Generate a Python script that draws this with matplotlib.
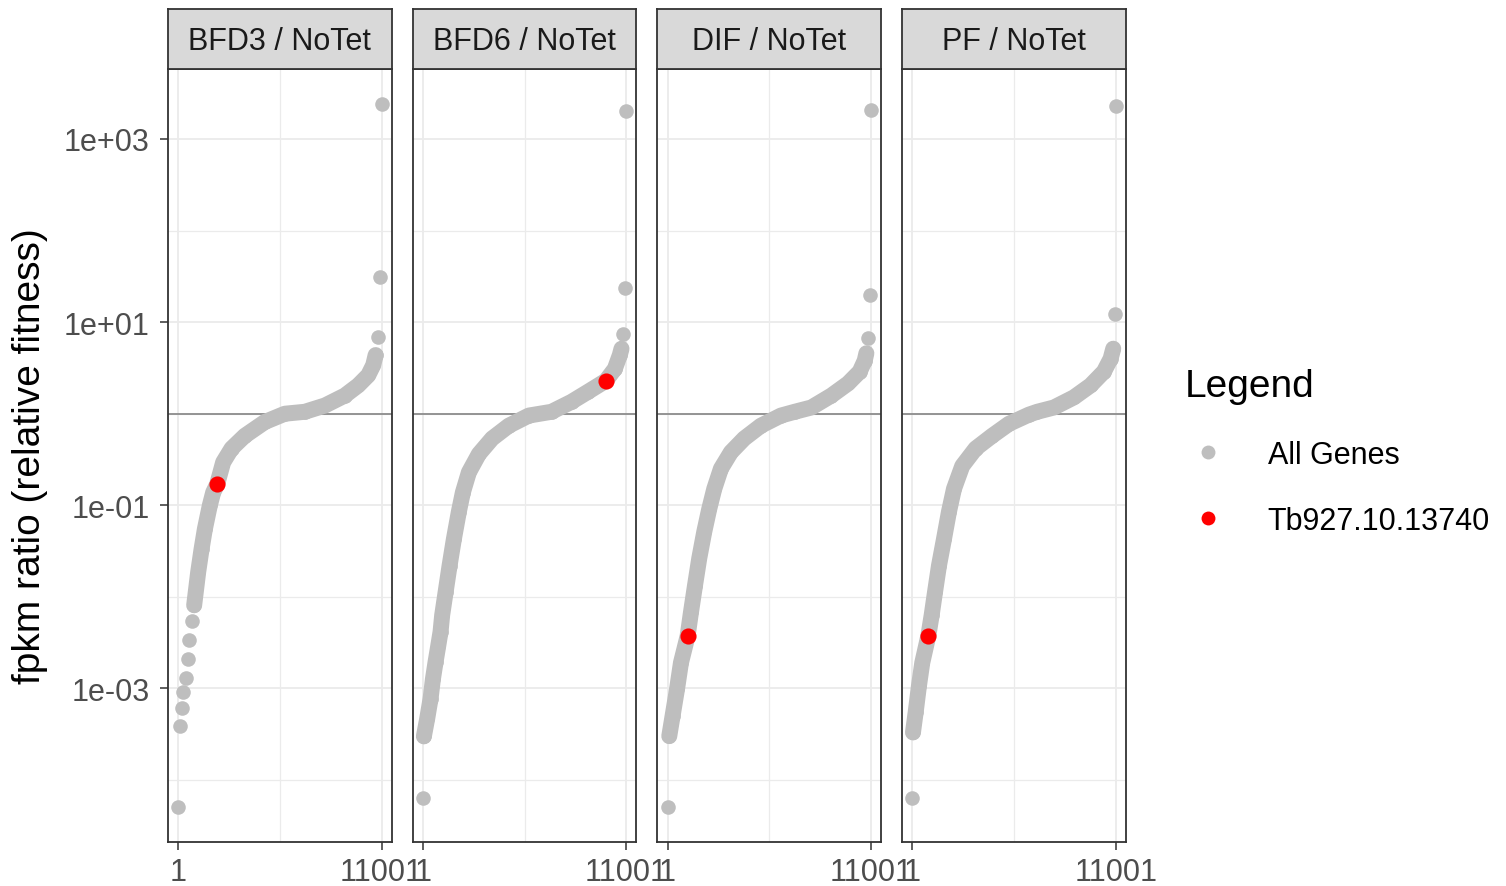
import numpy as np
import matplotlib.pyplot as plt
from matplotlib.lines import Line2D
from matplotlib.ticker import FixedLocator, FuncFormatter, NullFormatter

plt.rcParams['font.family'] = ['Liberation Sans', 'DejaVu Sans']

# facet titles
panels = ["BFD3 / NoTet", "BFD6 / NoTet", "DIF / NoTet", "PF / NoTet"]

# genes sorted by fpkm ratio: dense part of each curve (rank, ratio)
bfd3_rank = [866, 1083, 1265, 1445, 1715, 1894, 2110, 2435, 2890, 3608, 4690,
             5771, 6853, 7940, 9016, 9740, 10282, 10552, 10682]
bfd3_ratio = [8.1e-3, 0.0186, 0.0331, 0.055, 0.100, 0.138, 0.170, 0.295, 0.417,
              0.575, 0.813, 1.0, 1.05, 1.23, 1.58, 2.04, 2.63, 3.39, 4.37]
bfd6_rank = [55, 235, 418, 543, 688, 828, 958, 1045, 1229, 1445, 1678, 1948,
             2164, 2489, 3030, 3750, 4652, 5734, 6960, 8042, 8940, 9897, 10384,
             10655, 10745]
bfd6_ratio = [3.0e-4, 4.68e-4, 7.76e-4, 1.26e-3, 1.95e-3, 2.88e-3, 4.17e-3,
              6.31e-3, 0.0112, 0.0219, 0.0427, 0.0851, 0.138, 0.229, 0.363,
              0.537, 0.741, 0.955, 1.05, 1.35, 1.74, 2.29, 3.09, 4.37, 5.13]
dif_rank = [93, 272, 510, 725, 1083, 1265, 1482, 1714, 1985, 2255, 2526, 2886,
            3427, 4148, 5052, 6134, 6878, 7780, 8862, 9763, 10394, 10665, 10755]
dif_ratio = [3.02e-4, 5.01e-4, 9.77e-4, 1.91e-3, 3.72e-3, 6.76e-3, 0.0132,
             0.0263, 0.0513, 0.0912, 0.151, 0.251, 0.380, 0.537, 0.741, 0.955,
             1.05, 1.17, 1.58, 2.14, 2.88, 3.80, 4.57]
pf_rank = [39, 185, 363, 542, 866, 1050, 1229, 1445, 1715, 1986, 2256, 2706,
           3429, 4327, 5230, 6311, 6760, 7663, 8745, 9646, 10367, 10728, 10872]
pf_ratio = [3.31e-4, 5.50e-4, 1.07e-3, 1.91e-3, 3.72e-3, 6.31e-3, 0.0112,
            0.0219, 0.0427, 0.0851, 0.151, 0.269, 0.417, 0.575, 0.776, 0.977,
            1.05, 1.17, 1.51, 2.04, 2.88, 3.98, 5.13]

# isolated outliers at both ends of each curve
bfd3_out_rank = [1, 93, 185, 271, 400, 508, 580, 725, 10820, 10910, 11001]
bfd3_out_ratio = [5.1e-5, 3.9e-4, 6.2e-4, 9.1e-4, 1.29e-3, 2.09e-3, 3.39e-3,
                  5.5e-3, 6.9, 30.9, 2400]
bfd6_out_rank = [1, 10835, 10926, 11001]
bfd6_out_ratio = [6.3e-5, 7.41, 23.4, 1995]
dif_out_rank = [1, 10855, 10960, 11001]
dif_out_ratio = [5.1e-5, 6.76, 20.0, 2089]
pf_out_rank = [1, 10948, 11001]
pf_out_ratio = [6.3e-5, 12.3, 2291]

# highlighted gene Tb927.10.13740 in each comparison
gene_rank = [2110, 9897, 1083, 866]
gene_ratio = [0.170, 2.29, 3.72e-3, 3.72e-3]

n_genes = 11001
x_breaks = [1, 11001]
y_breaks = [1e-3, 1e-1, 1e1, 1e3]
y_minor = [1e-4, 1e-2, 1e0, 1e2]

curves = [(bfd3_rank, bfd3_ratio), (bfd6_rank, bfd6_ratio),
          (dif_rank, dif_ratio), (pf_rank, pf_ratio)]
outliers = [(bfd3_out_rank, bfd3_out_ratio), (bfd6_out_rank, bfd6_out_ratio),
            (dif_out_rank, dif_out_ratio), (pf_out_rank, pf_out_ratio)]

gray = '#BEBEBE'
W, H = 1506, 887

# ggplot-like 5% expansion on log scale
all_vals = np.concatenate([np.r_[c[1], o[1]] for c, o in zip(curves, outliers)])
lo, hi = np.log10(all_vals.min()), np.log10(all_vals.max())
pad = 0.05 * (hi - lo)
ylim = (10 ** (lo - pad), 10 ** (hi + pad))
xpad = 0.05 * (n_genes - 1)
xlim = (1 - xpad, n_genes + xpad)

fig = plt.figure(figsize=(W / 100, H / 100), dpi=100)

left0, step, pw = 168, 244.7, 223.7
top, bottom, strip_h = 70, 843, 60

for i, name in enumerate(panels):
    left = left0 + i * step
    ax = fig.add_axes([left / W, 1 - bottom / H, pw / W, (bottom - top) / H])
    ax.set_yscale('log')
    ax.set_xlim(*xlim)
    ax.set_ylim(*ylim)

    ax.yaxis.set_major_locator(FixedLocator(y_breaks))
    ax.yaxis.set_minor_locator(FixedLocator(y_minor))
    ax.yaxis.set_major_formatter(FuncFormatter(lambda v, p: f"{v:.0e}"))
    ax.yaxis.set_minor_formatter(NullFormatter())
    ax.xaxis.set_major_locator(FixedLocator(x_breaks))
    ax.xaxis.set_minor_locator(FixedLocator([(x_breaks[0] + x_breaks[1]) / 2]))
    ax.xaxis.set_major_formatter(FuncFormatter(lambda v, p: f"{int(v)}"))

    ax.grid(which='major', color='#EBEBEB', lw=1.3, zorder=0)
    ax.grid(which='minor', color='#EBEBEB', lw=0.9, zorder=0)
    ax.set_axisbelow(True)
    for s in ax.spines.values():
        s.set_color('#333333')
        s.set_linewidth(1.3)
        s.set_zorder(5)

    ax.tick_params(which='major', length=6, width=1.1, color='#333333',
                   labelsize=22, labelcolor='#4D4D4D', pad=5)
    ax.tick_params(axis='y', which='major', pad=7)
    ax.tick_params(which='minor', length=0)
    if i > 0:
        ax.tick_params(axis='y', which='major', length=0, labelleft=False)

    ax.axhline(1, color='#8C8C8C', lw=1.3, zorder=1.5)

    r, v = curves[i]
    ax.plot(r, v, color=gray, lw=11.5, solid_capstyle='round',
            solid_joinstyle='round', zorder=3)
    ax.scatter(r, v, s=110, color=gray, lw=0, zorder=3)
    orank, oval = outliers[i]
    ax.scatter(orank, oval, s=110, color=gray, lw=0, zorder=3)
    ax.scatter([gene_rank[i]], [gene_ratio[i]], s=135, color='red', lw=0, zorder=4)

    # facet strip
    sax = fig.add_axes([left / W, 1 - top / H, pw / W, strip_h / H])
    sax.set_facecolor('#D9D9D9')
    sax.set_xticks([])
    sax.set_yticks([])
    for s in sax.spines.values():
        s.set_color('#333333')
        s.set_linewidth(1.3)
    sax.text(0.5, 0.47, name, ha='center', va='center', fontsize=22,
             color='#1A1A1A', transform=sax.transAxes)

fig.text(30 / W, 1 - 456.5 / H, 'fpkm ratio (relative fitness)', rotation=90,
         ha='center', va='center', fontsize=28, color='black')

handles = [Line2D([], [], ls='', marker='o', markersize=10, color=gray, mec='none'),
           Line2D([], [], ls='', marker='o', markersize=10, color='red', mec='none')]
fig.legend(handles, ['All Genes', 'Tb927.10.13740'], title='Legend',
           loc='upper left', bbox_to_anchor=(1185 / W, 1 - 369 / H),
           frameon=False, fontsize=22, title_fontsize=28, handlelength=1.5,
           handletextpad=1.2, labelspacing=1.17, alignment='left',
           borderaxespad=0, borderpad=0)

fig.savefig('out.png', dpi=100)
